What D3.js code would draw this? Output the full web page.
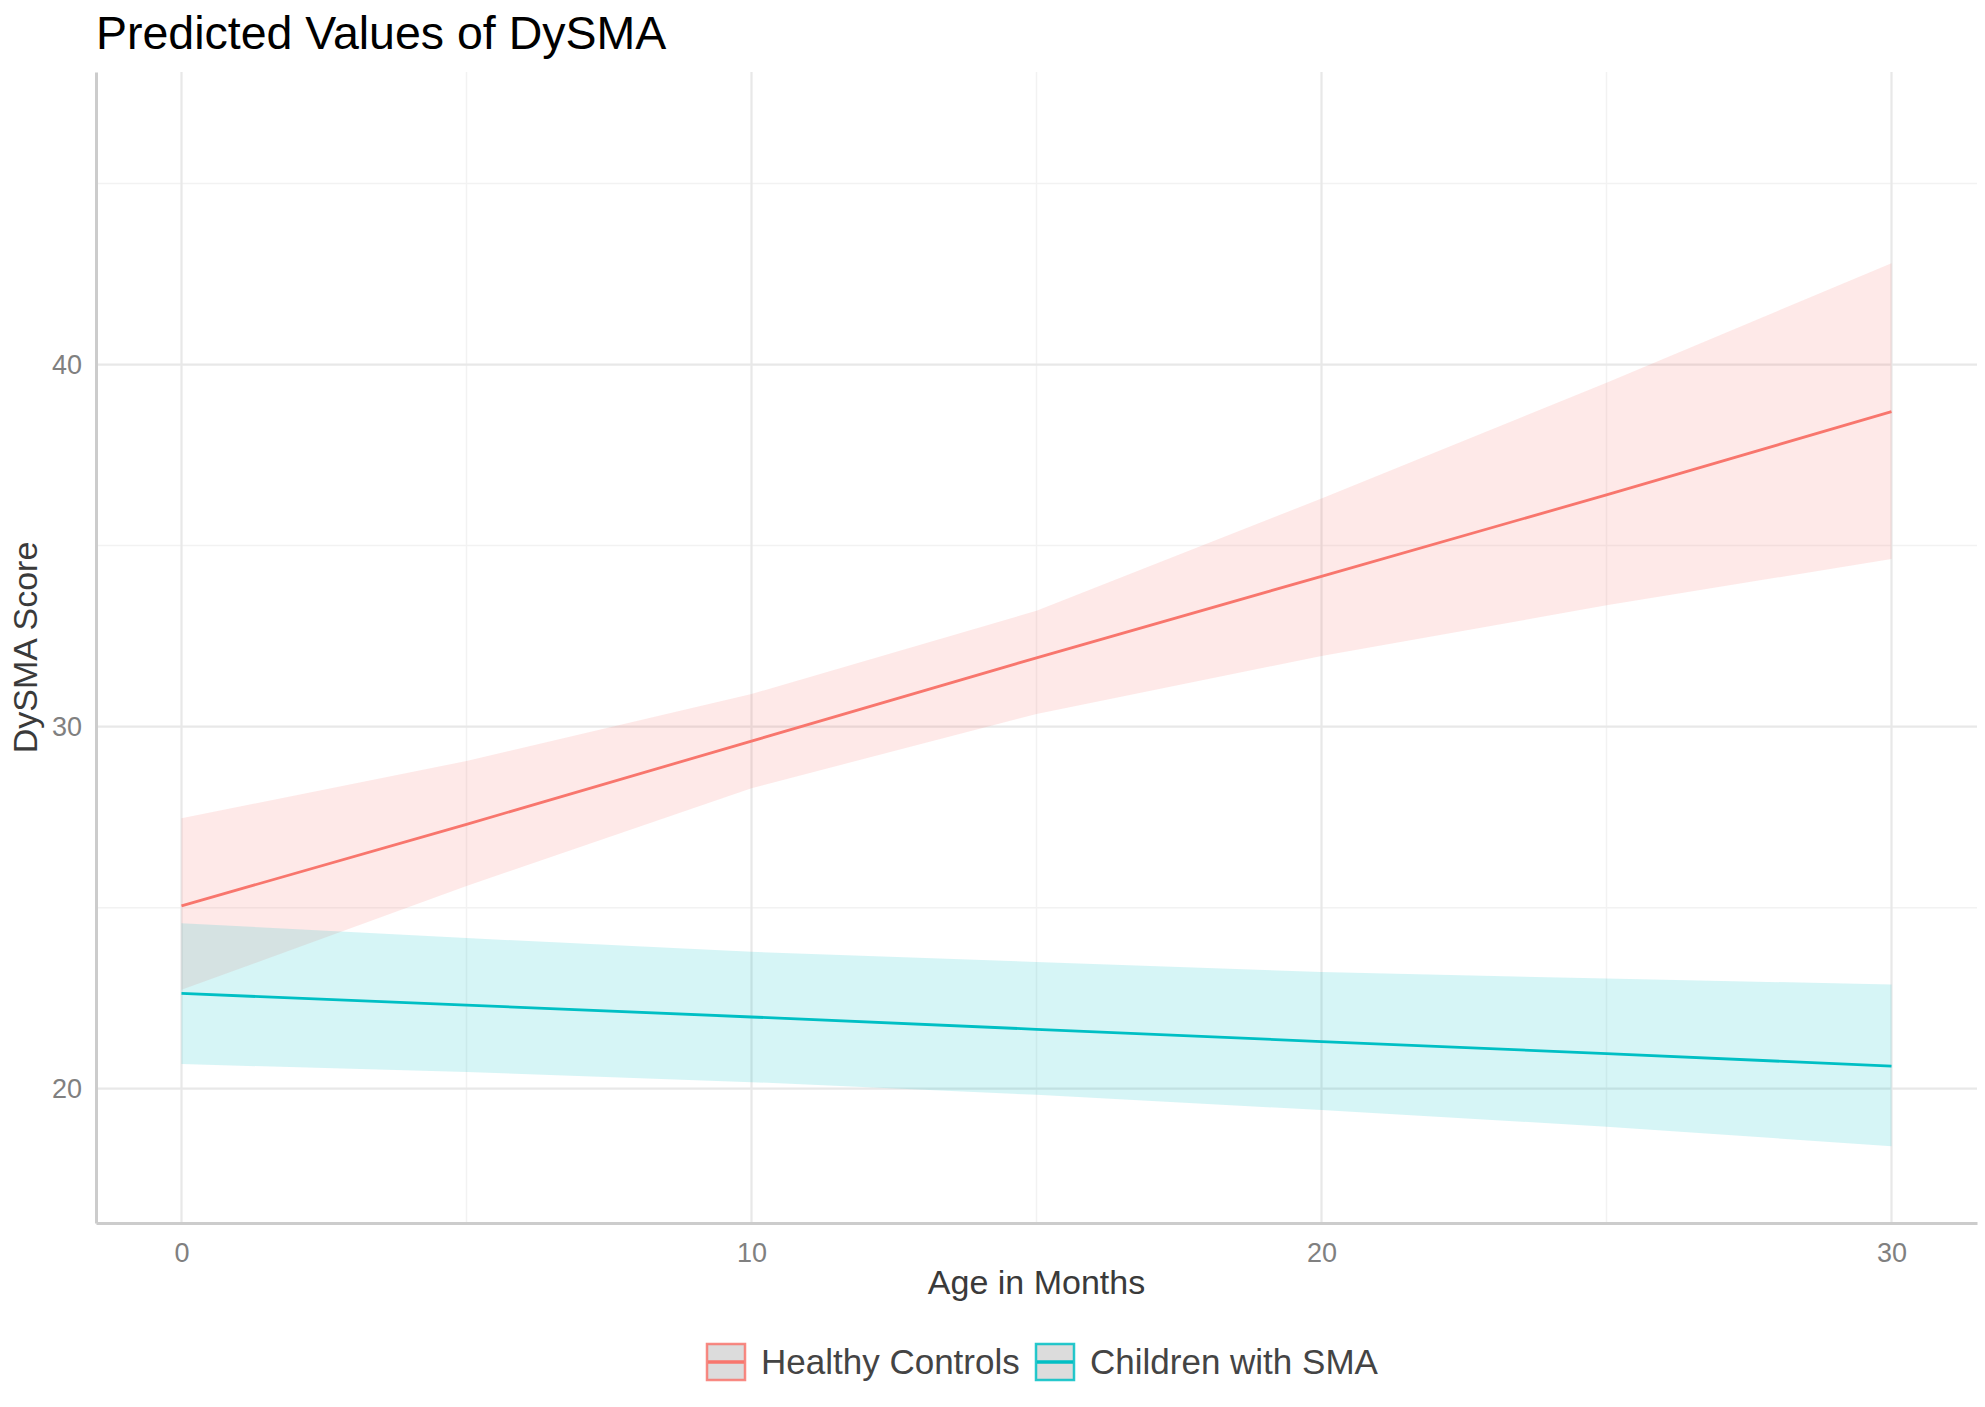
<!DOCTYPE html>
<html>
<head>
<meta charset="utf-8">
<script src="https://cdn.jsdelivr.net/npm/d3@7"></script>
<style>
	body {margin:0; background:#fff;}
	svg {display:block; font-family:'Liberation Sans', Arial, sans-serif;}
</style>
</head>
<body>
<div id="chart"></div>
<script>
// age in months where the predictions were read
var ages = [0, 5, 10, 15, 20, 25, 30];

var groups = ['Healthy Controls', 'Children with SMA'];

// Healthy Controls: predicted value and 95% CI
var hcFit   = [25.05, 27.3, 29.6, 31.9, 34.15, 36.4, 38.7];
var hcUpper = [27.47, 29.05, 30.9, 33.2, 36.3, 39.5, 42.8];
var hcLower = [22.73, 25.6, 28.3, 30.35, 31.95, 33.35, 34.63];

// Children with SMA
var smaFit   = [22.63, 22.31, 21.98, 21.64, 21.3, 20.97, 20.62];
var smaUpper = [24.57, 24.16, 23.78, 23.5, 23.22, 23.04, 22.88];
var smaLower = [20.68, 20.46, 20.18, 19.83, 19.41, 18.95, 18.41];

var xMajor = [0, 10, 20, 30],
	xMinor = [5, 15, 25],
	yMajor = [20, 30, 40],
	yMinor = [25, 35, 45];

var W = 1985, H = 1407,
	pad = {top:72, right:8, bottom:184, left:96},
	colors = ['#F8766D', '#00BFC4'];

var svg = d3.select('#chart').append('svg').attr('width', W).attr('height', H);

var x = d3.scaleLinear().domain([-1.5, 31.5]).range([pad.left, W - pad.right]);
var y = d3.scaleLinear().domain([16.29, 48.08]).range([H - pad.bottom, pad.top]);

var series = [
	{name: groups[0], fit: hcFit, lo: hcLower, hi: hcUpper},
	{name: groups[1], fit: smaFit, lo: smaLower, hi: smaUpper}
];

// grid
var grid = svg.append('g').attr('class', 'grid');
grid.selectAll('line.xmin').data(xMinor).enter().append('line')
	.attr('x1', function (d) {return x(d);}).attr('x2', function (d) {return x(d);})
	.attr('y1', y.range()[1]).attr('y2', y.range()[0])
	.attr('stroke', '#F2F2F2').attr('stroke-width', 1.5);
grid.selectAll('line.ymin').data(yMinor).enter().append('line')
	.attr('y1', function (d) {return y(d);}).attr('y2', function (d) {return y(d);})
	.attr('x1', x.range()[0]).attr('x2', x.range()[1])
	.attr('stroke', '#F2F2F2').attr('stroke-width', 1.5);
grid.selectAll('line.xmaj').data(xMajor).enter().append('line')
	.attr('x1', function (d) {return x(d);}).attr('x2', function (d) {return x(d);})
	.attr('y1', y.range()[1]).attr('y2', y.range()[0])
	.attr('stroke', '#E8E8E8').attr('stroke-width', 2.2);
grid.selectAll('line.ymaj').data(yMajor).enter().append('line')
	.attr('y1', function (d) {return y(d);}).attr('y2', function (d) {return y(d);})
	.attr('x1', x.range()[0]).attr('x2', x.range()[1])
	.attr('stroke', '#E8E8E8').attr('stroke-width', 2.2);

// ribbons then lines
var area = d3.area()
	.x(function (d) {return x(d.x);})
	.y0(function (d) {return y(d.lo);})
	.y1(function (d) {return y(d.hi);});
var line = d3.line()
	.x(function (d) {return x(d.x);})
	.y(function (d) {return y(d.v);});

series.forEach(function (s, i) {
	var pts = ages.map(function (a, j) {return {x: a, lo: s.lo[j], hi: s.hi[j], v: s.fit[j]};});
	svg.append('path').datum(pts).attr('d', area)
		.attr('fill', colors[i]).attr('fill-opacity', 0.16);
});
series.forEach(function (s, i) {
	var pts = ages.map(function (a, j) {return {x: a, v: s.fit[j]};});
	svg.append('path').datum(pts).attr('d', line)
		.attr('fill', 'none').attr('stroke', colors[i]).attr('stroke-width', 2.8);
});

// axes
var xAxis = d3.axisBottom(x).tickValues(xMajor).tickSize(0).tickPadding(20);
var yAxis = d3.axisLeft(y).tickValues(yMajor).tickSize(0).tickPadding(14);

var gx = svg.append('g').attr('transform', 'translate(0,' + y.range()[0] + ')').call(xAxis);
var gy = svg.append('g').attr('transform', 'translate(' + x.range()[0] + ',0)').call(yAxis);
[gx, gy].forEach(function (g) {
	g.select('.domain').attr('stroke', '#CCCCCC').attr('stroke-width', 3);
	g.selectAll('text').attr('font-size', 27).attr('fill', '#808080')
		.attr('font-family', "'Liberation Sans', Arial, sans-serif");
});

// titles
svg.append('text').attr('x', 96).attr('y', 49)
	.attr('font-size', 46.5).attr('fill', '#000')
	.text('Predicted Values of DySMA');
svg.append('text').attr('x', (x.range()[0] + x.range()[1]) / 2).attr('y', 1294)
	.attr('text-anchor', 'middle').attr('font-size', 34).attr('fill', '#3A3A3A')
	.text('Age in Months');
svg.append('text')
	.attr('transform', 'translate(37,' + ((y.range()[0] + y.range()[1]) / 2) + ') rotate(-90)')
	.attr('text-anchor', 'middle').attr('font-size', 34).attr('fill', '#3A3A3A')
	.text('DySMA Score');

// legend
var legend = svg.append('g').attr('transform', 'translate(706,1343)');
var keyX = [0, 329], keyW = 40, keyH = 38;
series.forEach(function (s, i) {
	var k = legend.append('g').attr('transform', 'translate(' + keyX[i] + ',0)');
	k.append('rect').attr('x', 1).attr('y', 1).attr('width', keyW - 2).attr('height', keyH - 2)
		.attr('fill', '#DCDCDC').attr('stroke', colors[i]).attr('stroke-opacity', 0.85).attr('stroke-width', 2.5);
	k.append('line').attr('x1', 2).attr('x2', keyW - 2).attr('y1', keyH / 2).attr('y2', keyH / 2)
		.attr('stroke', colors[i]).attr('stroke-width', 3.5);
	k.append('text').attr('x', keyW + 15).attr('y', keyH / 2 + 12)
		.attr('font-size', 35).attr('fill', '#444').text(s.name);
});
</script>
</body>
</html>
